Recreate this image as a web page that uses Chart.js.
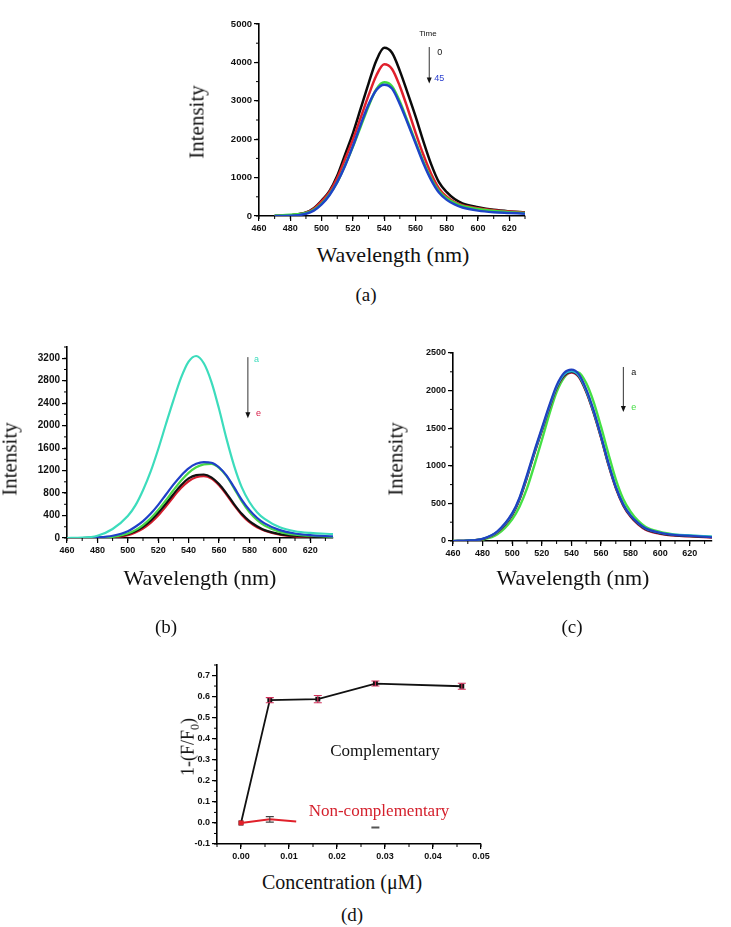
<!DOCTYPE html>
<html lang="en">
<head>
    <meta charset="UTF-8">
    <title>Fluorescence spectra</title>
    <script src="https://cdn.jsdelivr.net/npm/chart.js"></script>
    <style>
        body {
            margin: 0;
            width: 731px;
            height: 927px;
            background: #fff;
            position: relative;
            overflow: hidden;
        }
        canvas {
            position: absolute;
        }
        .lab {
            position: absolute;
            font-family: "Liberation Serif", "Times New Roman", serif;
            color: #111;
            white-space: nowrap;
            transform: translate(-50%, -50%);
        }
        .rot {
            transform: translate(-50%, -50%) rotate(-90deg);
        }
    </style>
</head>
<body>
    <canvas id="chartA" width="340" height="230" style="left:200px;top:10px"></canvas>
    <canvas id="chartB" width="340" height="232" style="left:10px;top:336px"></canvas>
    <canvas id="chartC" width="341" height="230" style="left:390px;top:340px"></canvas>
    <canvas id="chartD" width="360" height="215" style="left:160px;top:655px"></canvas>

    <div class="lab rot" style="left:197px;top:122px;font-size:21px">Intensity</div>
    <div class="lab" style="left:393px;top:255px;font-size:22px">Wavelength (nm)</div>
    <div class="lab" style="left:366px;top:295px;font-size:19px">(a)</div>

    <div class="lab rot" style="left:10px;top:459px;font-size:21px">Intensity</div>
    <div class="lab" style="left:200px;top:578px;font-size:22px">Wavelength (nm)</div>
    <div class="lab" style="left:166px;top:627px;font-size:19px">(b)</div>

    <div class="lab rot" style="left:396px;top:459px;font-size:21px">Intensity</div>
    <div class="lab" style="left:573px;top:578px;font-size:22px">Wavelength (nm)</div>
    <div class="lab" style="left:572px;top:627px;font-size:19px">(c)</div>

    <div class="lab rot" style="left:190px;top:747px;font-size:18px">1-(F/F<sub style="font-size:12px">0</sub>)</div>
    <div class="lab" style="left:385px;top:751px;font-size:17px">Complementary</div>
    <div class="lab" style="left:379px;top:811px;font-size:17px;color:#d4202c">Non-complementary</div>
    <div class="lab" style="left:342px;top:882px;font-size:20px">Concentration (&mu;M)</div>
    <div class="lab" style="left:352px;top:915px;font-size:19px">(d)</div>

    <script>
        // (a) spectra over time
        const wlA = [470, 480, 490, 495, 500, 505, 510, 515, 520, 525, 530, 535, 540, 545, 550, 555, 560, 565, 570, 575, 580, 585, 590, 600, 610, 620, 630];
        const aBlack = [0, 20, 90, 200, 400, 650, 1050, 1600, 2150, 2800, 3450, 4050, 4380, 4250, 3780, 3200, 2600, 1950, 1350, 880, 620, 440, 330, 230, 160, 120, 95];
        const aRed = [0, 20, 85, 190, 380, 620, 990, 1480, 1990, 2560, 3140, 3660, 3950, 3830, 3380, 2800, 2180, 1600, 1100, 720, 500, 360, 280, 200, 150, 115, 90];
        const aGreen = [10, 30, 80, 160, 320, 560, 880, 1320, 1800, 2330, 2860, 3300, 3480, 3380, 2980, 2460, 1940, 1420, 980, 650, 460, 340, 260, 180, 130, 100, 80];
        const aBlue = [0, 5, 60, 140, 300, 540, 880, 1310, 1820, 2380, 2900, 3280, 3420, 3320, 2920, 2420, 1900, 1380, 940, 610, 420, 300, 220, 140, 100, 80, 60];

        // (b) and (c) share the wavelength grid
        const wlB = [460, 470, 480, 490, 500, 505, 510, 515, 520, 525, 530, 535, 540, 545, 550, 555, 560, 565, 570, 575, 580, 585, 590, 600, 610, 620, 635];
        const bCyan = [0, 5, 40, 160, 390, 580, 850, 1180, 1580, 2020, 2450, 2850, 3140, 3240, 3110, 2780, 2300, 1760, 1280, 900, 640, 460, 340, 190, 120, 90, 70];
        const bBlue = [0, 0, 10, 40, 120, 200, 300, 430, 590, 770, 950, 1110, 1240, 1320, 1350, 1340, 1260, 1110, 900, 680, 500, 360, 260, 140, 80, 50, 30];
        const bGreen = [0, 0, 5, 20, 80, 140, 230, 350, 500, 670, 850, 1020, 1160, 1260, 1310, 1320, 1250, 1100, 880, 650, 460, 320, 220, 110, 60, 40, 20];
        const bBlack = [0, 0, 5, 20, 70, 120, 200, 310, 450, 610, 780, 940, 1060, 1120, 1130, 1080, 960, 790, 600, 430, 300, 210, 140, 70, 40, 25, 15];
        const bRed = [0, 0, 0, 10, 50, 100, 170, 270, 400, 560, 730, 890, 1010, 1080, 1100, 1060, 940, 770, 580, 410, 280, 190, 130, 60, 30, 20, 10];

        const cBlue = [0, 5, 30, 130, 370, 580, 880, 1200, 1500, 1800, 2070, 2235, 2280, 2220, 2020, 1740, 1400, 1040, 720, 490, 340, 240, 170, 110, 80, 70, 50];
        const cCyan = [0, 5, 30, 125, 360, 570, 860, 1180, 1480, 1780, 2050, 2215, 2260, 2200, 2000, 1720, 1390, 1030, 720, 490, 340, 240, 170, 110, 85, 75, 60];
        const cBlack = [0, 5, 25, 120, 350, 560, 850, 1170, 1470, 1770, 2040, 2200, 2250, 2190, 1990, 1710, 1380, 1020, 710, 480, 330, 230, 160, 100, 75, 65, 50];
        const cRed = [0, 5, 25, 115, 345, 550, 840, 1160, 1460, 1760, 2030, 2190, 2240, 2180, 1980, 1700, 1370, 1010, 700, 470, 320, 220, 150, 95, 70, 60, 45];
        const cGreen = [0, 5, 20, 90, 290, 460, 700, 1010, 1340, 1680, 1980, 2170, 2250, 2240, 2100, 1850, 1520, 1160, 820, 560, 390, 270, 190, 120, 85, 70, 55];

        // (d) quenching vs concentration
        const conc = [0, 0.006, 0.016, 0.028, 0.046];
        const comp = [0, 0.583, 0.588, 0.662, 0.649];
        const compErr = [0, 0.012, 0.017, 0.012, 0.014];
        const ncConc = [0, 0.006, 0.0115];
        const nonComp = [0, 0.017, 0.007];
        const ncErr = [0, 0.013, 0];
        const tailConc = [0.028];
        const tailVal = [-0.022];
        const tailErr = [0.002];

        const tickFont = 'Arial, "Liberation Sans", sans-serif';

        function pairs(xs, ys) {
            return xs.map((x, i) => ({ x: x, y: ys[i] }));
        }

        function line(xs, ys, color, width) {
            return {
                data: pairs(xs, ys),
                borderColor: color,
                borderWidth: width,
                pointRadius: 0,
                fill: false,
                cubicInterpolationMode: 'monotone'
            };
        }

        function scale(o) {
            return {
                type: 'linear',
                min: o.min,
                max: o.max,
                ticks: {
                    stepSize: o.step,
                    includeBounds: false,
                    autoSkip: false,
                    maxRotation: 0,
                    padding: 2,
                    color: '#111',
                    font: { family: tickFont, weight: 'bold', size: o.size },
                    callback: o.fmt || (v => v)
                },
                grid: { drawOnChartArea: false, drawTicks: true, tickLength: 5, color: '#000', lineWidth: 1.2 },
                border: { display: true, color: '#000', width: 1.6 },
                afterBuildTicks: s => {
                    s.ticks = s.ticks.filter(t => t.value >= o.from - 1e-9 && t.value <= o.to + 1e-9);
                },
                afterFit: s => {
                    if (o.w) s.width = o.w;
                    if (o.h) s.height = o.h;
                }
            };
        }

        // short unlabeled ticks between the major ones
        const minorTicks = {
            id: 'minorTicks',
            afterDraw(chart, args, opts) {
                const ctx = chart.ctx;
                ctx.save();
                ctx.strokeStyle = '#000';
                ctx.lineWidth = 1;
                ['x', 'y'].forEach(id => {
                    const step = opts[id];
                    if (!step) return;
                    const s = chart.scales[id];
                    const first = Math.ceil(s.min / step - 1e-6);
                    const last = Math.floor(s.max / step + 1e-6);
                    for (let k = first; k <= last; k++) {
                        const p = s.getPixelForValue(k * step);
                        ctx.beginPath();
                        if (id === 'x') {
                            ctx.moveTo(p, s.top);
                            ctx.lineTo(p, s.top + 3);
                        } else {
                            ctx.moveTo(s.right, p);
                            ctx.lineTo(s.right - 3, p);
                        }
                        ctx.stroke();
                    }
                });
                ctx.restore();
            }
        };

        // arrow + letters placed in data coordinates
        const notes = {
            id: 'notes',
            afterDatasetsDraw(chart, args, o) {
                const ctx = chart.ctx, xs = chart.scales.x, ys = chart.scales.y;
                ctx.save();
                (o.arrows || []).forEach(a => {
                    const px = xs.getPixelForValue(a.x);
                    const p1 = ys.getPixelForValue(a.from), p2 = ys.getPixelForValue(a.to);
                    ctx.strokeStyle = '#333';
                    ctx.lineWidth = 1;
                    ctx.beginPath();
                    ctx.moveTo(px, p1);
                    ctx.lineTo(px, p2 - 4);
                    ctx.stroke();
                    ctx.fillStyle = '#111';
                    ctx.beginPath();
                    ctx.moveTo(px - 2.5, p2 - 6);
                    ctx.lineTo(px + 2.5, p2 - 6);
                    ctx.lineTo(px, p2);
                    ctx.closePath();
                    ctx.fill();
                });
                (o.labels || []).forEach(t => {
                    ctx.fillStyle = t.color || '#111';
                    ctx.font = (t.size || 9) + 'px ' + tickFont;
                    ctx.textAlign = 'left';
                    ctx.textBaseline = 'middle';
                    ctx.fillText(t.text, xs.getPixelForValue(t.x), ys.getPixelForValue(t.y));
                });
                ctx.restore();
            }
        };

        const errorBars = {
            id: 'errorBars',
            afterDatasetsDraw(chart) {
                const ctx = chart.ctx, ys = chart.scales.y;
                ctx.save();
                chart.data.datasets.forEach((ds, i) => {
                    if (!ds.errors) return;
                    chart.getDatasetMeta(i).data.forEach((pt, j) => {
                        const e = ds.errors[j];
                        if (!e) return;
                        const v = ds.data[j].y;
                        const top = ys.getPixelForValue(v + e), bot = ys.getPixelForValue(v - e);
                        ctx.strokeStyle = ds.errorColor;
                        ctx.lineWidth = 1.1;
                        ctx.beginPath();
                        ctx.moveTo(pt.x, top); ctx.lineTo(pt.x, bot);
                        ctx.moveTo(pt.x - 4, top); ctx.lineTo(pt.x + 4, top);
                        ctx.moveTo(pt.x - 4, bot); ctx.lineTo(pt.x + 4, bot);
                        ctx.stroke();
                    });
                });
                ctx.restore();
            }
        };

        function options(pad, xs, ys, minor, note) {
            return {
                responsive: false,
                animation: false,
                devicePixelRatio: 1,
                layout: { padding: pad },
                plugins: {
                    legend: { display: false },
                    tooltip: { enabled: false },
                    minorTicks: minor,
                    notes: note || {}
                },
                scales: { x: xs, y: ys }
            };
        }

        const plugins = [minorTicks, notes, errorBars];

        // first dataset is drawn on top
        new Chart(document.getElementById('chartA'), {
            type: 'line',
            data: {
                datasets: [
                    line(wlA, aBlue, '#1e44c8', 2.5),
                    line(wlA, aGreen, '#3fdc3f', 2.5),
                    line(wlA, aRed, '#e0202c', 2.5),
                    line(wlA, aBlack, '#0a0a0a', 2.5)
                ]
            },
            options: options(
                { left: 0, top: 14, right: 15, bottom: 0 },
                scale({ min: 460, max: 630, step: 20, from: 460, to: 620, size: 9, h: 24 }),
                scale({ min: 0, max: 5000, step: 1000, from: 0, to: 5000, size: 9.5, w: 59 }),
                { x: 10, y: 500 },
                {
                    arrows: [{ x: 568.8, from: 4400, to: 3450 }],
                    labels: [
                        { x: 562.4, y: 4740, text: 'Time', size: 8 },
                        { x: 573.9, y: 4270, text: '0', size: 9 },
                        { x: 572, y: 3568, text: '45', size: 9, color: '#2a3fcf' }
                    ]
                }
            ),
            plugins: plugins
        });

        new Chart(document.getElementById('chartB'), {
            type: 'line',
            data: {
                datasets: [
                    line(wlB, bCyan, '#3cdcbc', 2.2),
                    line(wlB, bBlue, '#1f3fc8', 2.2),
                    line(wlB, bGreen, '#48d848', 2.2),
                    line(wlB, bBlack, '#111111', 2.2),
                    line(wlB, bRed, '#d41c2c', 2.2)
                ]
            },
            options: options(
                { left: 0, top: 11, right: 17, bottom: 0 },
                scale({ min: 460, max: 635, step: 20, from: 460, to: 620, size: 9, h: 30 }),
                scale({ min: 0, max: 3400, step: 400, from: 0, to: 3200, size: 10, w: 57 }),
                { x: 10, y: 200 },
                {
                    arrows: [{ x: 579, from: 3220, to: 2130 }],
                    labels: [
                        { x: 583, y: 3180, text: 'a', size: 9, color: '#3cdcbc' },
                        { x: 584.3, y: 2222, text: 'e', size: 9, color: '#d8204a' }
                    ]
                }
            ),
            plugins: plugins
        });

        new Chart(document.getElementById('chartC'), {
            type: 'line',
            data: {
                datasets: [
                    line(wlB, cBlue, '#2040c0', 2.2),
                    line(wlB, cCyan, '#28b8d0', 2.2),
                    line(wlB, cBlack, '#222222', 2.2),
                    line(wlB, cRed, '#c02050', 2.2),
                    line(wlB, cGreen, '#44e044', 2.4)
                ]
            },
            options: options(
                { left: 0, top: 13, right: 19, bottom: 0 },
                scale({ min: 460, max: 635, step: 20, from: 460, to: 620, size: 9, h: 29 }),
                scale({ min: 0, max: 2500, step: 500, from: 0, to: 2500, size: 9, w: 63 }),
                { x: 10, y: 250 },
                {
                    arrows: [{ x: 575.1, from: 2314, to: 1715 }],
                    labels: [
                        { x: 580.5, y: 2247, text: 'a', size: 9 },
                        { x: 580.5, y: 1769, text: 'e', size: 9, color: '#44dd44' }
                    ]
                }
            ),
            plugins: plugins
        });

        new Chart(document.getElementById('chartD'), {
            type: 'line',
            data: {
                datasets: [
                    {
                        data: pairs(ncConc, nonComp),
                        borderColor: '#e0202a',
                        borderWidth: 2,
                        pointStyle: 'rect',
                        pointRadius: c => (c.dataIndex === 0 ? 2 : 0),
                        pointBackgroundColor: '#e0202a',
                        pointBorderColor: '#e0202a',
                        tension: 0,
                        errors: ncErr,
                        errorColor: '#444'
                    },
                    {
                        data: pairs(conc, comp),
                        borderColor: '#111',
                        borderWidth: 1.8,
                        pointStyle: 'rect',
                        pointRadius: 2.2,
                        pointBackgroundColor: '#111',
                        pointBorderColor: '#111',
                        tension: 0,
                        errors: compErr,
                        errorColor: '#d0305a'
                    },
                    {
                        data: pairs(tailConc, tailVal),
                        showLine: false,
                        pointRadius: 0,
                        errors: tailErr,
                        errorColor: '#555'
                    }
                ]
            },
            options: options(
                { left: 0, top: 10, right: 39, bottom: 0 },
                scale({ min: -0.005, max: 0.05, step: 0.01, from: 0, to: 0.05, size: 9, h: 26, fmt: v => v.toFixed(2) }),
                scale({ min: -0.1, max: 0.75, step: 0.1, from: -0.1, to: 0.7, size: 9, w: 57, fmt: v => v.toFixed(1) }),
                { x: 0.005, y: 0.05 }
            ),
            plugins: plugins
        });
    </script>
</body>
</html>
